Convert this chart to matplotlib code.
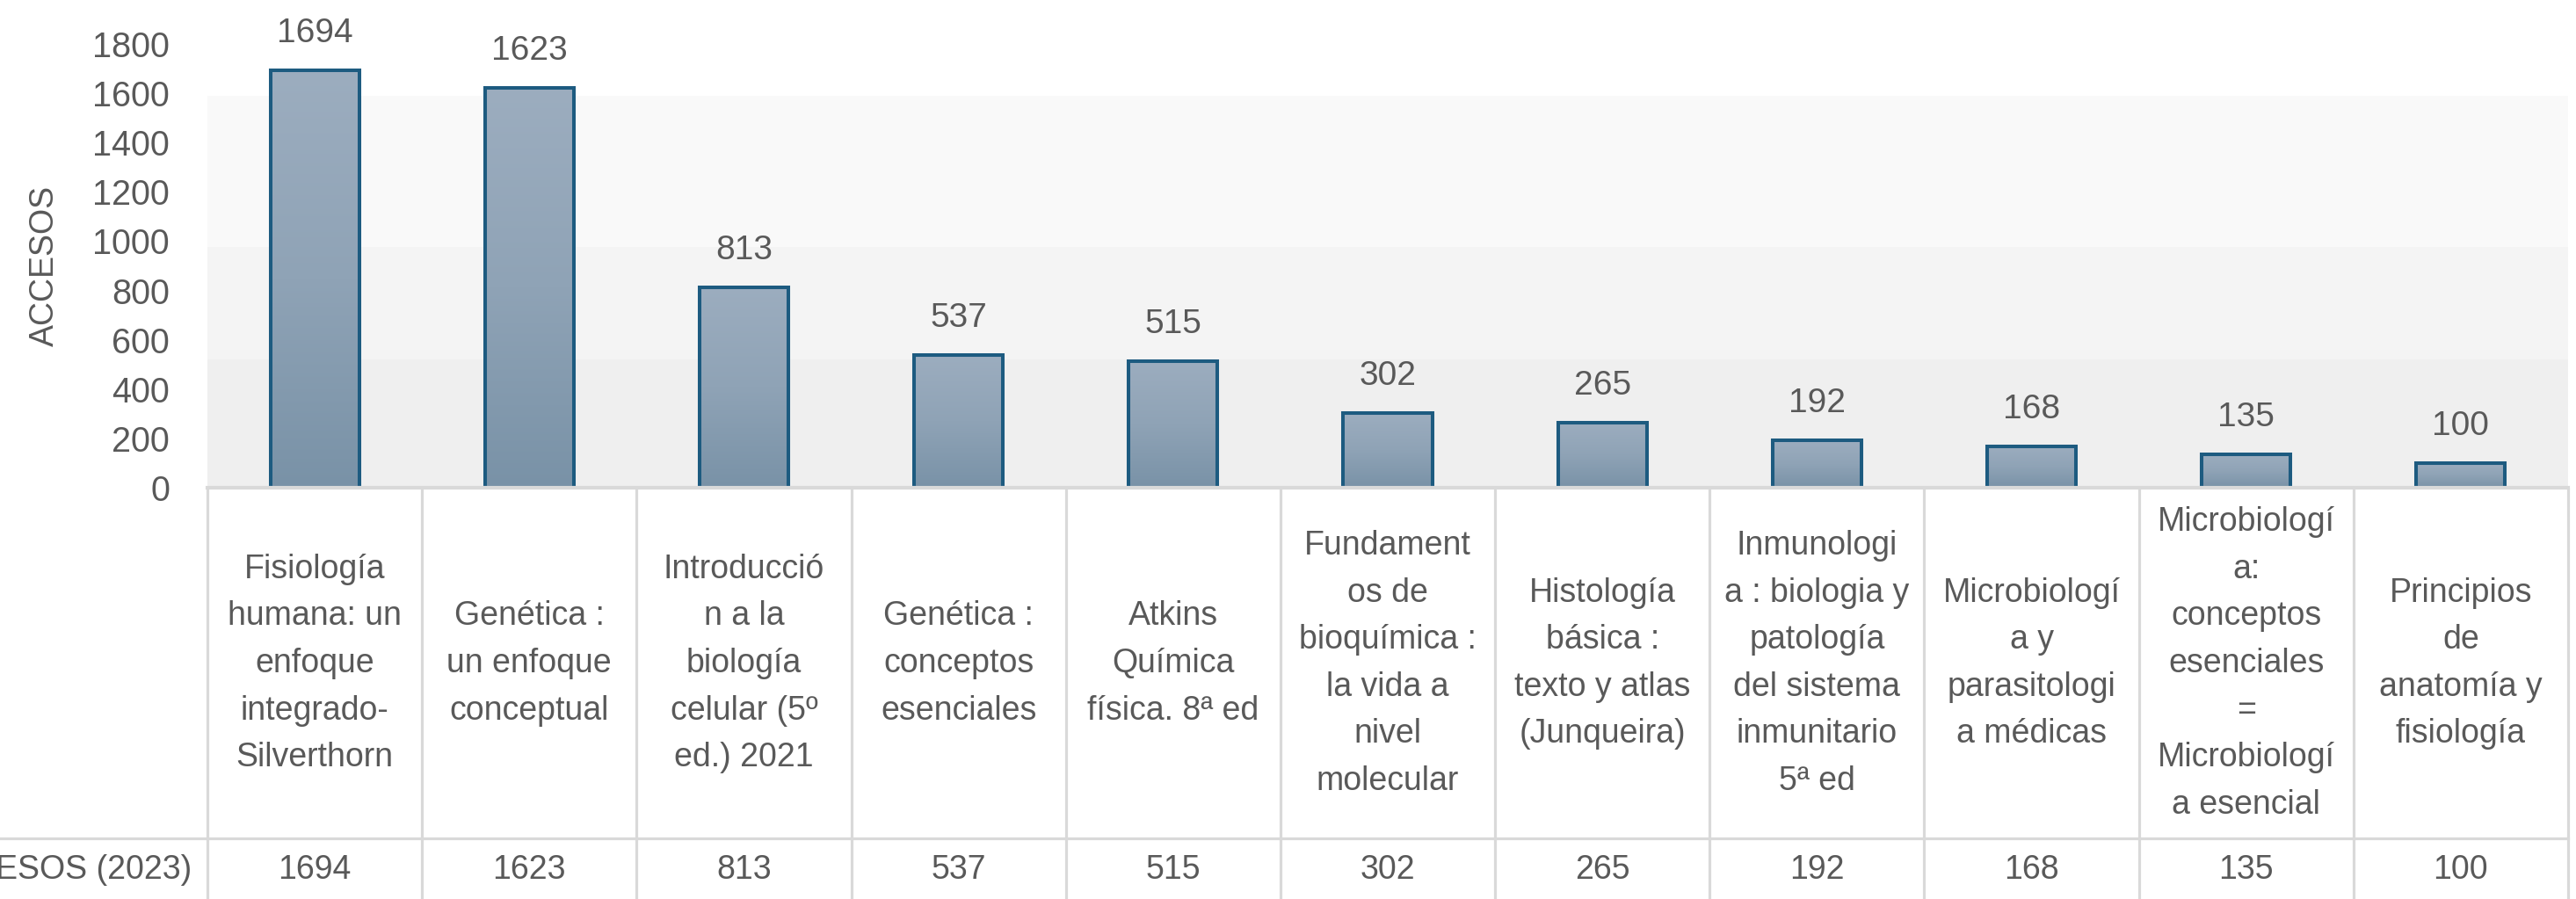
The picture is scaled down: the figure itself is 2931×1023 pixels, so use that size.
import matplotlib
matplotlib.use("Agg")
import matplotlib.pyplot as plt
import numpy as np
from matplotlib import font_manager
from matplotlib.colors import LinearSegmentedColormap

# ---------------- data ----------------
categories = [
    "Fisiología\nhumana: un\nenfoque\nintegrado-\nSilverthorn",
    "Genética :\nun enfoque\nconceptual",
    "Introducció\nn a la\nbiología\ncelular (5º\ned.) 2021",
    "Genética :\nconceptos\nesenciales",
    "Atkins\nQuímica\nfísica. 8ª ed",
    "Fundament\nos de\nbioquímica :\nla vida a\nnivel\nmolecular",
    "Histología\nbásica :\ntexto y atlas\n(Junqueira)",
    "Inmunologi\na : biologia y\npatología\ndel sistema\ninmunitario\n5ª ed",
    "Microbiologí\na y\nparasitologi\na médicas",
    "Microbiologí\na:\nconceptos\nesenciales\n=\nMicrobiologí\na esencial",
    "Principios\nde\nanatomía y\nfisiología",
]
accesos = [1694, 1623, 813, 537, 515, 302, 265, 192, 168, 135, 100]
series_name = "ACCESOS (2023)"
y_label = "ACCESOS"
y_ticks = [0, 200, 400, 600, 800, 1000, 1200, 1400, 1600, 1800]

# ---------------- style ----------------
TXT = "#595959"
GRID = "#d9d9d9"
EDGE = "#1d5b80"
names = {f.name for f in font_manager.fontManager.ttflist}
num_font = "Liberation Sans" if "Liberation Sans" in names else "DejaVu Sans"
if "Liberation Sans Narrow" in names:
    cat_font = dict(family="Liberation Sans Narrow")
else:
    cat_font = dict(family=num_font)

W, H = 2931, 1023
fig = plt.figure(figsize=(W / 100, H / 100), dpi=100)
fig.patch.set_facecolor("white")

ax_left, ax_right, ax_bot, ax_top = 236, 2922, 555, 50
ax = fig.add_axes([ax_left / W, (H - ax_bot) / H, (ax_right - ax_left) / W, (ax_bot - ax_top) / H])
n = len(accesos)
ax.set_xlim(-0.5, n - 0.5)
ax.set_ylim(0, 1800)
ax.set_facecolor("white")
for s in ax.spines.values():
    s.set_visible(False)

# background bands (plot area shading)
ax.axhspan(0, 520, color="#efefef", lw=0, zorder=0)
ax.axhspan(520, 975, color="#f4f4f4", lw=0, zorder=0)
ax.axhspan(975, 1590, color="#f9f9f9", lw=0, zorder=0)

x = np.arange(n)
bw = 0.414
bars = ax.bar(x, accesos, width=bw, facecolor="none", edgecolor=EDGE,
              linewidth=2.9, zorder=3)
cmap = LinearSegmentedColormap.from_list("g", ["#7992a7", "#8fa3b6", "#9cadbf"])
grad = np.linspace(0, 1, 256).reshape(-1, 1)
for b in bars:
    x0, y0 = b.get_x(), b.get_y()
    im = ax.imshow(grad, cmap=cmap, origin="lower", aspect="auto",
                   extent=[x0, x0 + b.get_width(), y0, y0 + b.get_height()],
                   zorder=2, interpolation="bilinear")
    im.set_clip_path(b)
ax.set_xlim(-0.5, n - 0.5)
ax.set_ylim(0, 1800)

for xi, v in zip(x, accesos):
    ax.annotate(str(v), (xi, v), xytext=(0, 23), textcoords="offset points",
                ha="center", va="baseline", fontsize=28, color=TXT,
                family=num_font, annotation_clip=False)

ax.set_yticks(y_ticks)
ax.set_yticklabels([str(t) for t in y_ticks], fontsize=28.5, color=TXT, family=num_font)
ax.tick_params(axis="y", length=0, pad=31)
ax.tick_params(axis="x", length=0, labelbottom=False)
ax.set_ylabel(y_label, fontsize=27, color=TXT, family=num_font, labelpad=26)

# ---------------- data table ----------------
tax = fig.add_axes([ax_left / W, 0, (ax_right - ax_left) / W, (H - ax_bot) / H])
tax.set_xlim(-0.5, n - 0.5)
tax.set_ylim(0, H - ax_bot)
tax.axis("off")
row_y = H - 954  # separator between category row and value row
lw_tab = 2.3
for k in range(n + 1):
    tax.plot([k - 0.5, k - 0.5], [0, H - ax_bot], color=GRID, lw=lw_tab,
             clip_on=False, solid_capstyle="butt", zorder=1)
tax.plot([-0.5, n - 0.5], [H - ax_bot, H - ax_bot], color=GRID, lw=lw_tab * 1.3,
         clip_on=False, zorder=1)
tax.plot([-0.5 - 236 / 244.2, n - 0.5], [row_y, row_y], color=GRID, lw=lw_tab,
         clip_on=False, zorder=1)

cat_center = H - 755
for xi, c in zip(x, categories):
    tax.text(xi, cat_center, c, ha="center", va="center", multialignment="center",
             fontsize=27, color=TXT, linespacing=1.63, **cat_font)
val_y = H - 990
for xi, v in zip(x, accesos):
    tax.text(xi, val_y, str(v), ha="center", va="center", fontsize=27,
             color=TXT, family=num_font)
fig.text(218 / W, val_y / H, series_name, ha="right", va="center", fontsize=27,
         color=TXT, family=num_font)

fig.savefig("out.png", dpi=100, facecolor="white")
